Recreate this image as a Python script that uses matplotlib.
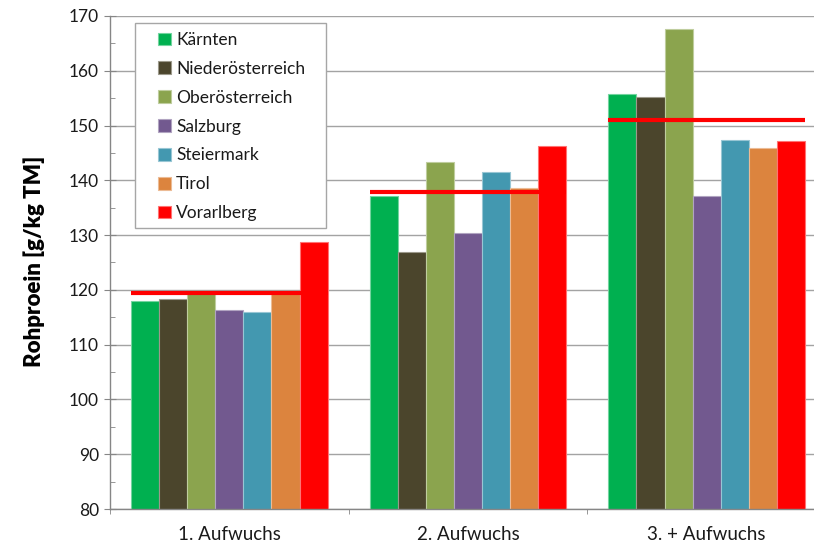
import matplotlib
matplotlib.use("Agg")
import matplotlib.pyplot as plt
from matplotlib.patches import Rectangle
from matplotlib.ticker import MultipleLocator, FixedLocator
import numpy as np

plt.rcParams['font.family'] = ['Lato', 'DejaVu Sans']

# Crude protein by cut and federal state
cuts = ["1. Aufwuchs", "2. Aufwuchs", "3. + Aufwuchs"]
states = ["Kärnten", "Niederösterreich", "Oberösterreich", "Salzburg",
          "Steiermark", "Tirol", "Vorarlberg"]
kaernten = [118.0, 137.2, 155.8]
niederoesterreich = [118.3, 126.9, 155.3]
oberoesterreich = [119.8, 143.3, 167.7]
salzburg = [116.3, 130.4, 137.1]
steiermark = [116.0, 141.5, 147.4]
tirol = [119.8, 138.6, 145.9]
vorarlberg = [128.7, 146.3, 147.2]
mittel = [119.4, 137.9, 151.1]

series = [kaernten, niederoesterreich, oberoesterreich, salzburg,
          steiermark, tirol, vorarlberg]
colors = ["#00B050", "#4B452C", "#8BA44E", "#72598F",
          "#4398B0", "#DC843E", "#FF0000"]


def lighten(c, f=0.45):
    rgb = np.array(matplotlib.colors.to_rgb(c))
    return tuple(rgb + (1 - rgb) * f)


W, H = 814, 544
fig = plt.figure(figsize=(W / 100, H / 100), dpi=100)
ax = fig.add_axes([110 / W, (H - 509) / H, 716 / W, 493 / H])

x = np.arange(len(cuts))
bw = 0.1177
n = len(series)
for j, (vals, col) in enumerate(zip(series, colors)):
    ax.bar(x + (j - (n - 1) / 2) * bw, vals, width=bw, bottom=0,
           color=col, edgecolor=lighten(col), linewidth=0.8,
           label=states[j], zorder=2)

ax.hlines(mittel, x - n / 2 * bw, x + n / 2 * bw, color="#FF0000",
          linewidth=3, zorder=3)

ax.set_ylim(80, 170)
ax.set_xlim(-0.5, 2.5)

ax.yaxis.set_major_locator(MultipleLocator(10))
ax.yaxis.set_minor_locator(MultipleLocator(5))
ax.grid(axis="y", which="major", color="#A3A3A3", linewidth=1.0, zorder=0)
ax.set_axisbelow(True)

ax.set_xticks(x)
ax.set_xticklabels(cuts)
ax.xaxis.set_minor_locator(FixedLocator([-0.5, 0.5, 1.5, 2.5]))

for s in ["top", "right"]:
    ax.spines[s].set_visible(False)
for s in ["left", "bottom"]:
    ax.spines[s].set_color("#868686")
    ax.spines[s].set_linewidth(1.0)

ax.tick_params(axis="y", which="major", direction="inout", length=8,
               color="#868686", labelsize=12.5, labelcolor="#1a1a1a", pad=4)
ax.tick_params(axis="y", which="minor", direction="in", length=3.5,
               color="#868686")
ax.tick_params(axis="x", which="major", length=0, labelsize=13.5,
               labelcolor="#1a1a1a", pad=12)
ax.tick_params(axis="x", which="minor", direction="out", length=3.5,
               color="#868686")

fig.text(34 / W, 1 - 261 / H, "Rohproein [g/kg TM]", rotation=90,
         ha="center", va="center", fontsize=16, fontweight="heavy",
         color="#000000")

# Legend box
fig.patches.append(Rectangle((135 / W, 1 - 228 / H), (326 - 135) / W,
                             (228 - 23) / H, transform=fig.transFigure,
                             facecolor="white", edgecolor="#A6A6A6",
                             linewidth=1.0, zorder=4))
leg = fig.legend(loc="upper left", bbox_to_anchor=(158 / W, 1 - 32 / H),
                 frameon=False, fontsize=12.5, labelspacing=0.74,
                 handlelength=0.75, handleheight=0.75, handletextpad=0.3,
                 borderaxespad=0, borderpad=0)
leg.set_zorder(5)
for t in leg.get_texts():
    t.set_color("#1a1a1a")

fig.savefig("out.png", dpi=100)
